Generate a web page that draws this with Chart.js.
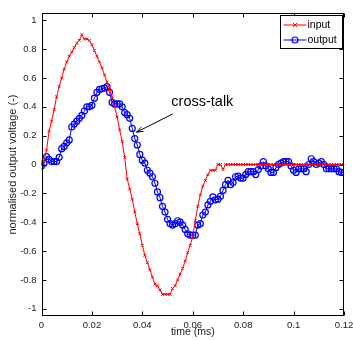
<!DOCTYPE html>
<html><head><meta charset="utf-8">
<script src="https://cdn.jsdelivr.net/npm/chart.js@4/dist/chart.umd.min.js"></script>
<style>html,body{margin:0;padding:0;background:#fff;}#wrap{width:353px;height:340px;}</style>
</head><body><div id="wrap"><canvas id="c" width="353" height="340"></canvas></div>
<script>
const time = [0,0.001,0.002,0.003,0.004,0.005,0.006,0.007,0.008,0.009,
0.010,0.011,0.012,0.013,0.014,0.015,0.016,0.017,0.018,0.019,
0.020,0.021,0.022,0.023,0.024,0.025,0.026,0.027,0.028,0.029,
0.030,0.031,0.032,0.033,0.034,0.035,0.036,0.037,0.038,0.039,
0.040,0.041,0.042,0.043,0.044,0.045,0.046,0.047,0.048,0.049,
0.050,0.051,0.052,0.053,0.054,0.055,0.056,0.057,0.058,0.059,
0.060,0.061,0.062,0.063,0.064,0.065,0.066,0.067,0.068,0.069,
0.070,0.071,0.072,0.073,0.074,0.075,0.076,0.077,0.078,0.079,
0.080,0.081,0.082,0.083,0.084,0.085,0.086,0.087,0.088,0.089,
0.090,0.091,0.092,0.093,0.094,0.095,0.096,0.097,0.098,0.099,
0.100,0.101,0.102,0.103,0.104,0.105,0.106,0.107,0.108,0.109,
0.110,0.111,0.112,0.113,0.114,0.115,0.116,0.117,0.118,0.119,0.120];

const input = [0,0.02,0.10,0.23,0.30,0.38,0.47,0.54,0.60,0.66,
0.71,0.75,0.78,0.81,0.84,0.86,0.90,0.87,0.87,0.86,
0.83,0.79,0.75,0.71,0.67,0.62,0.57,0.52,0.47,0.40,
0.33,0.24,0.16,0.05,-0.10,-0.17,-0.24,-0.33,-0.41,-0.48,
-0.56,-0.63,-0.68,-0.73,-0.78,-0.83,-0.84,-0.87,-0.90,-0.90,
-0.90,-0.90,-0.86,-0.84,-0.80,-0.76,-0.72,-0.67,-0.61,-0.56,
-0.50,-0.39,-0.29,-0.21,-0.15,-0.11,-0.07,-0.04,-0.04,-0.04,
0,0,-0.035,0,0,0,0,0,0,0,
0,0,0,0,0,0,0,0,0,0,
0,0,0,0,0,0,0,0,0,0,
0,0,0,0,0,0,0,0,0,0,
0,0,0,0,0,0,0,0,0,0,0];

const output = [-0.01,0.01,0.055,0.035,0.02,0.02,0.02,0.05,0.11,0.125,
0.15,0.17,0.26,0.28,0.30,0.32,0.34,0.37,0.40,0.40,
0.41,0.46,0.50,0.52,0.525,0.53,0.54,0.50,0.43,0.42,
0.42,0.42,0.40,0.36,0.345,0.32,0.25,0.18,0.135,0.07,
0.03,0.01,-0.04,-0.06,-0.085,-0.13,-0.19,-0.23,-0.29,-0.33,
-0.38,-0.41,-0.42,-0.41,-0.39,-0.40,-0.42,-0.45,-0.48,-0.49,
-0.49,-0.49,-0.42,-0.41,-0.35,-0.33,-0.28,-0.255,-0.225,-0.245,
-0.24,-0.22,-0.18,-0.14,-0.11,-0.14,-0.125,-0.085,-0.08,-0.095,
-0.095,-0.07,-0.05,-0.05,-0.05,-0.07,-0.035,-0.01,0.02,-0.01,
-0.03,-0.055,-0.055,-0.02,0,0.01,0.02,0.02,0.02,-0.01,
-0.04,-0.055,-0.03,-0.03,-0.03,-0.05,0,0.04,0.02,0,
0.01,0.02,0,-0.03,-0.03,-0.03,-0.03,-0.03,-0.05,-0.055,-0.055];

const xTicks = [0,0.02,0.04,0.06,0.08,0.1,0.12];
const xTickLabels = ['0','0.02','0.04','0.06','0.08','0.1','0.12'];
const yTicks = [-1,-0.8,-0.6,-0.4,-0.2,0,0.2,0.4,0.6,0.8,1];
const yTickLabels = ['-1','-0.8','-0.6','-0.4','-0.2','0','0.2','0.4','0.6','0.8','1'];
const seriesNames = ['input','output'];
const xTitle = 'time (ms)';
const yTitle = 'normalised output voltage (-)';
const noteText = 'cross-talk';
const noteArrowTip = {x:0.0377, y:0.224};
const noteArrowTail = {x:0.052, y:0.35};
const noteTextAt = {x:0.0515, y:0.43};

const FONT = '"Liberation Sans", Arial, Helvetica, sans-serif';

function pts(ys){ return ys.map((v,i)=>({x:time[i], y:v})); }

const framePlugin = {
  id:'frame',
  afterDraw(chart){
    const {ctx, chartArea:a, scales:{x, y}} = chart;
    ctx.save();
    ctx.strokeStyle = '#000';
    ctx.lineWidth = 1;
    const L = Math.round(a.left)+0.5, R = Math.round(a.right)-0.5, T = Math.round(a.top)+0.5, B = Math.round(a.bottom)-0.5;
    ctx.strokeRect(L, T, R-L, B-T);
    const tl = 4;
    ctx.beginPath();
    xTicks.forEach(v=>{
      const px = Math.round(x.getPixelForValue(v))+0.5;
      ctx.moveTo(px,B); ctx.lineTo(px,B-tl);
      ctx.moveTo(px,T); ctx.lineTo(px,T+tl);
    });
    yTicks.forEach(v=>{
      const py = Math.round(y.getPixelForValue(v))+0.5;
      ctx.moveTo(L,py); ctx.lineTo(L+tl,py);
      ctx.moveTo(R,py); ctx.lineTo(R-tl,py);
    });
    ctx.stroke();

    // annotation
    const tx = x.getPixelForValue(noteArrowTip.x), ty = y.getPixelForValue(noteArrowTip.y);
    const sx = x.getPixelForValue(noteArrowTail.x), sy = y.getPixelForValue(noteArrowTail.y);
    ctx.strokeStyle = '#000'; ctx.lineWidth = 1;
    ctx.beginPath(); ctx.moveTo(sx,sy); ctx.lineTo(tx,ty); ctx.stroke();
    const ang = Math.atan2(ty-sy, tx-sx), ah = 7, aw = 0.35;
    ctx.beginPath();
    ctx.moveTo(tx,ty);
    ctx.lineTo(tx-ah*Math.cos(ang-aw), ty-ah*Math.sin(ang-aw));
    ctx.moveTo(tx,ty);
    ctx.lineTo(tx-ah*Math.cos(ang+aw), ty-ah*Math.sin(ang+aw));
    ctx.stroke();
    ctx.fillStyle = '#000';
    ctx.font = '14.5px ' + FONT;
    ctx.textAlign = 'left'; ctx.textBaseline = 'middle';
    ctx.fillText(noteText, x.getPixelForValue(noteTextAt.x), y.getPixelForValue(noteTextAt.y));

    // legend
    const lx = 280.5, ly = 15.5, lw = 62, lh = 33;
    ctx.fillStyle = '#fff';
    ctx.fillRect(lx, ly, lw, lh);
    ctx.strokeStyle = '#000'; ctx.lineWidth = 1;
    ctx.strokeRect(lx, ly, lw, lh);
    ctx.font = '10.5px ' + FONT;
    ctx.textBaseline = 'middle';
    chart.data.datasets.forEach((ds,i)=>{
      const cy = ly + 9.5 + i*15;
      ctx.strokeStyle = ds.borderColor; ctx.lineWidth = 1;
      ctx.beginPath(); ctx.moveTo(lx+3, cy); ctx.lineTo(lx+26, cy); ctx.stroke();
      const mx = lx+14.5;
      if (ds.pointStyle === 'circle') {
        ctx.lineWidth = 1.2;
        ctx.beginPath(); ctx.arc(mx, cy, 3, 0, Math.PI*2); ctx.stroke();
      } else {
        ctx.beginPath();
        ctx.moveTo(mx-2,cy-2); ctx.lineTo(mx+2,cy+2);
        ctx.moveTo(mx-2,cy+2); ctx.lineTo(mx+2,cy-2);
        ctx.stroke();
      }
      ctx.fillStyle = '#000';
      ctx.fillText(ds.label, lx+27, cy+0.5);
    });
    ctx.restore();
  }
};

new Chart(document.getElementById('c'), {
  type:'line',
  data:{
    datasets:[
      {label:seriesNames[0], data:pts(input), borderColor:'#ff0000', backgroundColor:'#ff0000',
       borderWidth:1, pointStyle:'crossRot', pointRadius:2, pointBorderWidth:1, pointBorderColor:'#ff0000', tension:0, fill:false},
      {label:seriesNames[1], data:pts(output), borderColor:'#0000ff', backgroundColor:'rgba(0,0,0,0)',
       borderWidth:1, pointStyle:'circle', pointRadius:3, pointBorderWidth:1.2, pointBorderColor:'#0000ff', tension:0, fill:false}
    ]
  },
  options:{
    responsive:false, animation:false, devicePixelRatio:1,
    layout:{padding:{left:0, right:9, top:13, bottom:0}},
    plugins:{legend:{display:false}, tooltip:{enabled:false}, title:{display:false}},
    scales:{
      x:{type:'linear', min:0, max:0.12,
        grid:{display:false, drawTicks:false},
        border:{display:false},
        afterBuildTicks:(s)=>{ s.ticks = xTicks.map(v=>({value:v})); },
        afterFit:(s)=>{ s.height = 24; s.paddingLeft = 0; s.paddingRight = 0; },
        ticks:{padding:4, color:'#222', font:{family:FONT, size:9.5}, maxRotation:0, autoSkip:false,
          callback:(v)=>{ const i = xTicks.findIndex(t=>Math.abs(t-v)<1e-9); return i>=0 ? xTickLabels[i] : ''; }},
        title:{display:true, text:xTitle, color:'#222', font:{family:FONT, size:10.5}, padding:{top:0,bottom:2}}
      },
      y:{type:'linear', min:-1.05, max:1.05,
        grid:{display:false, drawTicks:false},
        border:{display:false},
        afterBuildTicks:(s)=>{ s.ticks = yTicks.map(v=>({value:v})); },
        afterFit:(s)=>{ s.width = 41.5; s.paddingTop = 0; s.paddingBottom = 0; },
        ticks:{padding:5, color:'#222', font:{family:FONT, size:9.5}, autoSkip:false,
          callback:(v)=>{ const i = yTicks.findIndex(t=>Math.abs(t-v)<1e-9); return i>=0 ? yTickLabels[i] : ''; }},
        title:{display:true, text:yTitle, color:'#222', font:{family:FONT, size:11}, padding:{top:6.5,bottom:0}}
      }
    }
  },
  plugins:[framePlugin]
});
</script></body></html>
